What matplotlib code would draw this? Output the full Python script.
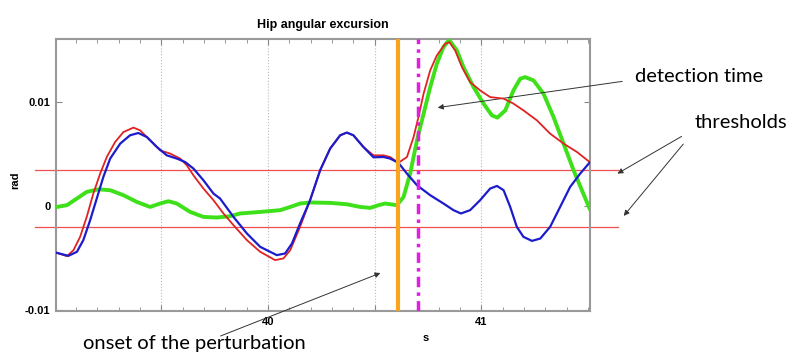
import numpy as np
import matplotlib
matplotlib.use("Agg")
import matplotlib.pyplot as plt
from matplotlib.ticker import MultipleLocator

# Hip angular excursion traces (time in s, angle in rad)
t_red = [39.011, 39.058, 39.089, 39.120, 39.151, 39.182, 39.214, 39.245, 39.284, 39.323,
         39.370, 39.401, 39.448, 39.495, 39.542, 39.589, 39.620, 39.651, 39.698, 39.745,
         39.792, 39.839, 39.902, 39.964, 40.034, 40.073, 40.105, 40.151, 40.198, 40.245,
         40.292, 40.339, 40.370, 40.401, 40.448, 40.495, 40.542, 40.573, 40.612, 40.652,
         40.683, 40.706, 40.730, 40.761, 40.792, 40.831, 40.851, 40.878, 40.910, 40.948,
         40.995, 41.042, 41.105, 41.151, 41.198, 41.261, 41.323, 41.386, 41.449, 41.508]
y_red = [-0.00449, -0.00481, -0.00423, -0.00295, -0.00103, 0.00122, 0.00314, 0.00474, 0.00618, 0.00714,
         0.00757, 0.00731, 0.00635, 0.00538, 0.00507, 0.00459, 0.00394, 0.00298, 0.00170, 0.00058,
         -0.00070, -0.00183, -0.00327, -0.00439, -0.00519, -0.00503, -0.00423, -0.00199, 0.00058, 0.00346,
         0.00555, 0.00683, 0.00709, 0.00683, 0.00570, 0.00490, 0.00490, 0.00474, 0.00418, 0.00474,
         0.00666, 0.00859, 0.01084, 0.01308, 0.01452, 0.01564, 0.01580, 0.01500, 0.01339, 0.01195,
         0.01115, 0.01051, 0.01036, 0.00988, 0.00923, 0.00827, 0.00699, 0.00603, 0.00522, 0.00426]

t_blue = [39.011, 39.065, 39.105, 39.135, 39.167, 39.198, 39.229, 39.261, 39.308, 39.354,
          39.393, 39.433, 39.480, 39.526, 39.573, 39.612, 39.651, 39.698, 39.745, 39.776,
          39.839, 39.902, 39.964, 40.042, 40.081, 40.113, 40.151, 40.198, 40.245, 40.292,
          40.339, 40.370, 40.401, 40.448, 40.495, 40.542, 40.573, 40.612, 40.652, 40.699,
          40.761, 40.823, 40.870, 40.905, 40.948, 40.995, 41.042, 41.074, 41.105, 41.136,
          41.167, 41.198, 41.238, 41.277, 41.323, 41.370, 41.417, 41.464, 41.508]
y_blue = [-0.00449, -0.00478, -0.00439, -0.00327, -0.00135, 0.00074, 0.00282, 0.00459, 0.00603, 0.00683,
          0.00705, 0.00666, 0.00570, 0.00490, 0.00459, 0.00426, 0.00363, 0.00250, 0.00122, 0.00074,
          -0.00103, -0.00263, -0.00391, -0.00471, -0.00455, -0.00359, -0.00166, 0.00058, 0.00346, 0.00555,
          0.00683, 0.00709, 0.00683, 0.00570, 0.00471, 0.00474, 0.00459, 0.00418, 0.00314, 0.00202,
          0.00106, 0.00026, -0.00038, -0.00070, -0.00038, 0.00058, 0.00170, 0.00195, 0.00154, -0.00007,
          -0.00199, -0.00295, -0.00334, -0.00311, -0.00199, -0.00007, 0.00186, 0.00314, 0.00420]

t_green = [39.011, 39.058, 39.105, 39.151, 39.206, 39.261, 39.323, 39.386, 39.448, 39.495,
           39.534, 39.573, 39.636, 39.698, 39.761, 39.823, 39.870, 39.964, 40.058, 40.105,
           40.151, 40.198, 40.292, 40.370, 40.433, 40.480, 40.519, 40.550, 40.605, 40.636,
           40.667, 40.699, 40.730, 40.761, 40.792, 40.823, 40.847, 40.855, 40.886, 40.917,
           40.964, 41.011, 41.050, 41.076, 41.113, 41.151, 41.183, 41.206, 41.245, 41.292,
           41.339, 41.386, 41.433, 41.472, 41.508]
y_green = [-0.00007, 0.00010, 0.00074, 0.00138, 0.00163, 0.00154, 0.00106, 0.00041, -0.00007, 0.00026,
           0.00048, 0.00026, -0.00055, -0.00103, -0.00109, -0.00096, -0.00070, -0.00055, -0.00038, -0.00007,
           0.00026, 0.00036, 0.00032, 0.00019, -0.00007, -0.00016, 0.00010, 0.00026, 0.00010, 0.00089,
           0.00314, 0.00635, 0.00891, 0.01147, 0.01372, 0.01532, 0.01596, 0.01587, 0.01500, 0.01339,
           0.01147, 0.00988, 0.00875, 0.00853, 0.00923, 0.01115, 0.01228, 0.01243, 0.01212, 0.01084,
           0.00859, 0.00603, 0.00346, 0.00154, -0.00022]

thresholds = [0.0035, -0.002]
onset_time = 40.608
detect_time = 40.703

fig = plt.figure(figsize=(8, 3.58), dpi=100)
ax = fig.add_axes([0.07, 0.131, 0.6675, 0.76])

# thresholds stick out past the axes on both sides
for th in thresholds:
    ax.plot([38.91, 41.64], [th, th], color="#f05050", lw=0.9, clip_on=False, zorder=2)

ax.plot(t_green, y_green, color="#3ee01a", lw=2.8, zorder=3, solid_joinstyle="round")
ax.plot(t_red, y_red, color="#e02222", lw=1.3, zorder=4, solid_joinstyle="round")
ax.plot(t_blue, y_blue, color="#1c1ccc", lw=1.6, zorder=5, solid_joinstyle="round")
ax.axvline(onset_time, color="#f7a51c", lw=3, zorder=6)
ax.axvline(detect_time, color="#e21ee2", lw=2.5, ls=(0, (3, 1.5, 1, 1.5)), zorder=6)

ax.set_xlim(39.007, 41.51)
ax.set_ylim(-0.0101, 0.0161)
ax.set_xticks([39.5, 40, 40.5, 41])
ax.set_xticklabels(["", "40", "", "41"])
ax.xaxis.set_minor_locator(MultipleLocator(0.1))
ax.set_yticks([-0.01, 0, 0.01])
ax.set_yticklabels(["-0.01", "0", "0.01"])
ax.grid(axis="x", color="#bbbbbb", ls=":", lw=0.8)
ax.tick_params(which="both", direction="in", top=True, right=True, color="#888888")
ax.tick_params(which="major", length=4, labelsize=8, pad=4)
ax.tick_params(which="minor", length=3)
for lab in ax.get_xticklabels() + ax.get_yticklabels():
    lab.set_fontweight("bold")
    lab.set_family("Liberation Sans")
for sp in ax.spines.values():
    sp.set_color("#999999")
    sp.set_linewidth(1.5)

fig.text(323 / 800, 1 - 25 / 358, "Hip angular excursion", ha="center", va="center",
         fontsize=9, fontweight="bold", family="Liberation Sans")
fig.text(15 / 800, 1 - 180 / 358, "rad", rotation=90, ha="center", va="center",
         fontsize=8, fontweight="bold", family="Liberation Sans")
fig.text(426 / 800, 1 - 338 / 358, "s", ha="center", va="center",
         fontsize=8, fontweight="bold", family="Liberation Sans")

# callouts
arrow = dict(arrowstyle="-|>", color="#333333", lw=0.7, mutation_scale=8)
def px(x, y):
    return (x / 800, 1 - y / 358)

fig.text(*px(635, 76), "detection time", ha="left", va="center", fontsize=14.5, family="Lato")
fig.text(*px(695, 123), "thresholds", ha="left", va="center", fontsize=14.5, family="Lato")
fig.text(*px(83, 344), "onset of the perturbation", ha="left", va="center", fontsize=14.5, family="Lato")
ax.annotate("", xy=px(435, 108), xytext=px(625, 81), xycoords="figure fraction", arrowprops=arrow)
ax.annotate("", xy=px(615, 175), xytext=px(684, 135), xycoords="figure fraction", arrowprops=arrow)
ax.annotate("", xy=px(622, 218), xytext=px(685, 142), xycoords="figure fraction", arrowprops=arrow)
ax.annotate("", xy=px(383, 272), xytext=px(218, 337), xycoords="figure fraction", arrowprops=arrow)

fig.savefig("out.png", dpi=100)
